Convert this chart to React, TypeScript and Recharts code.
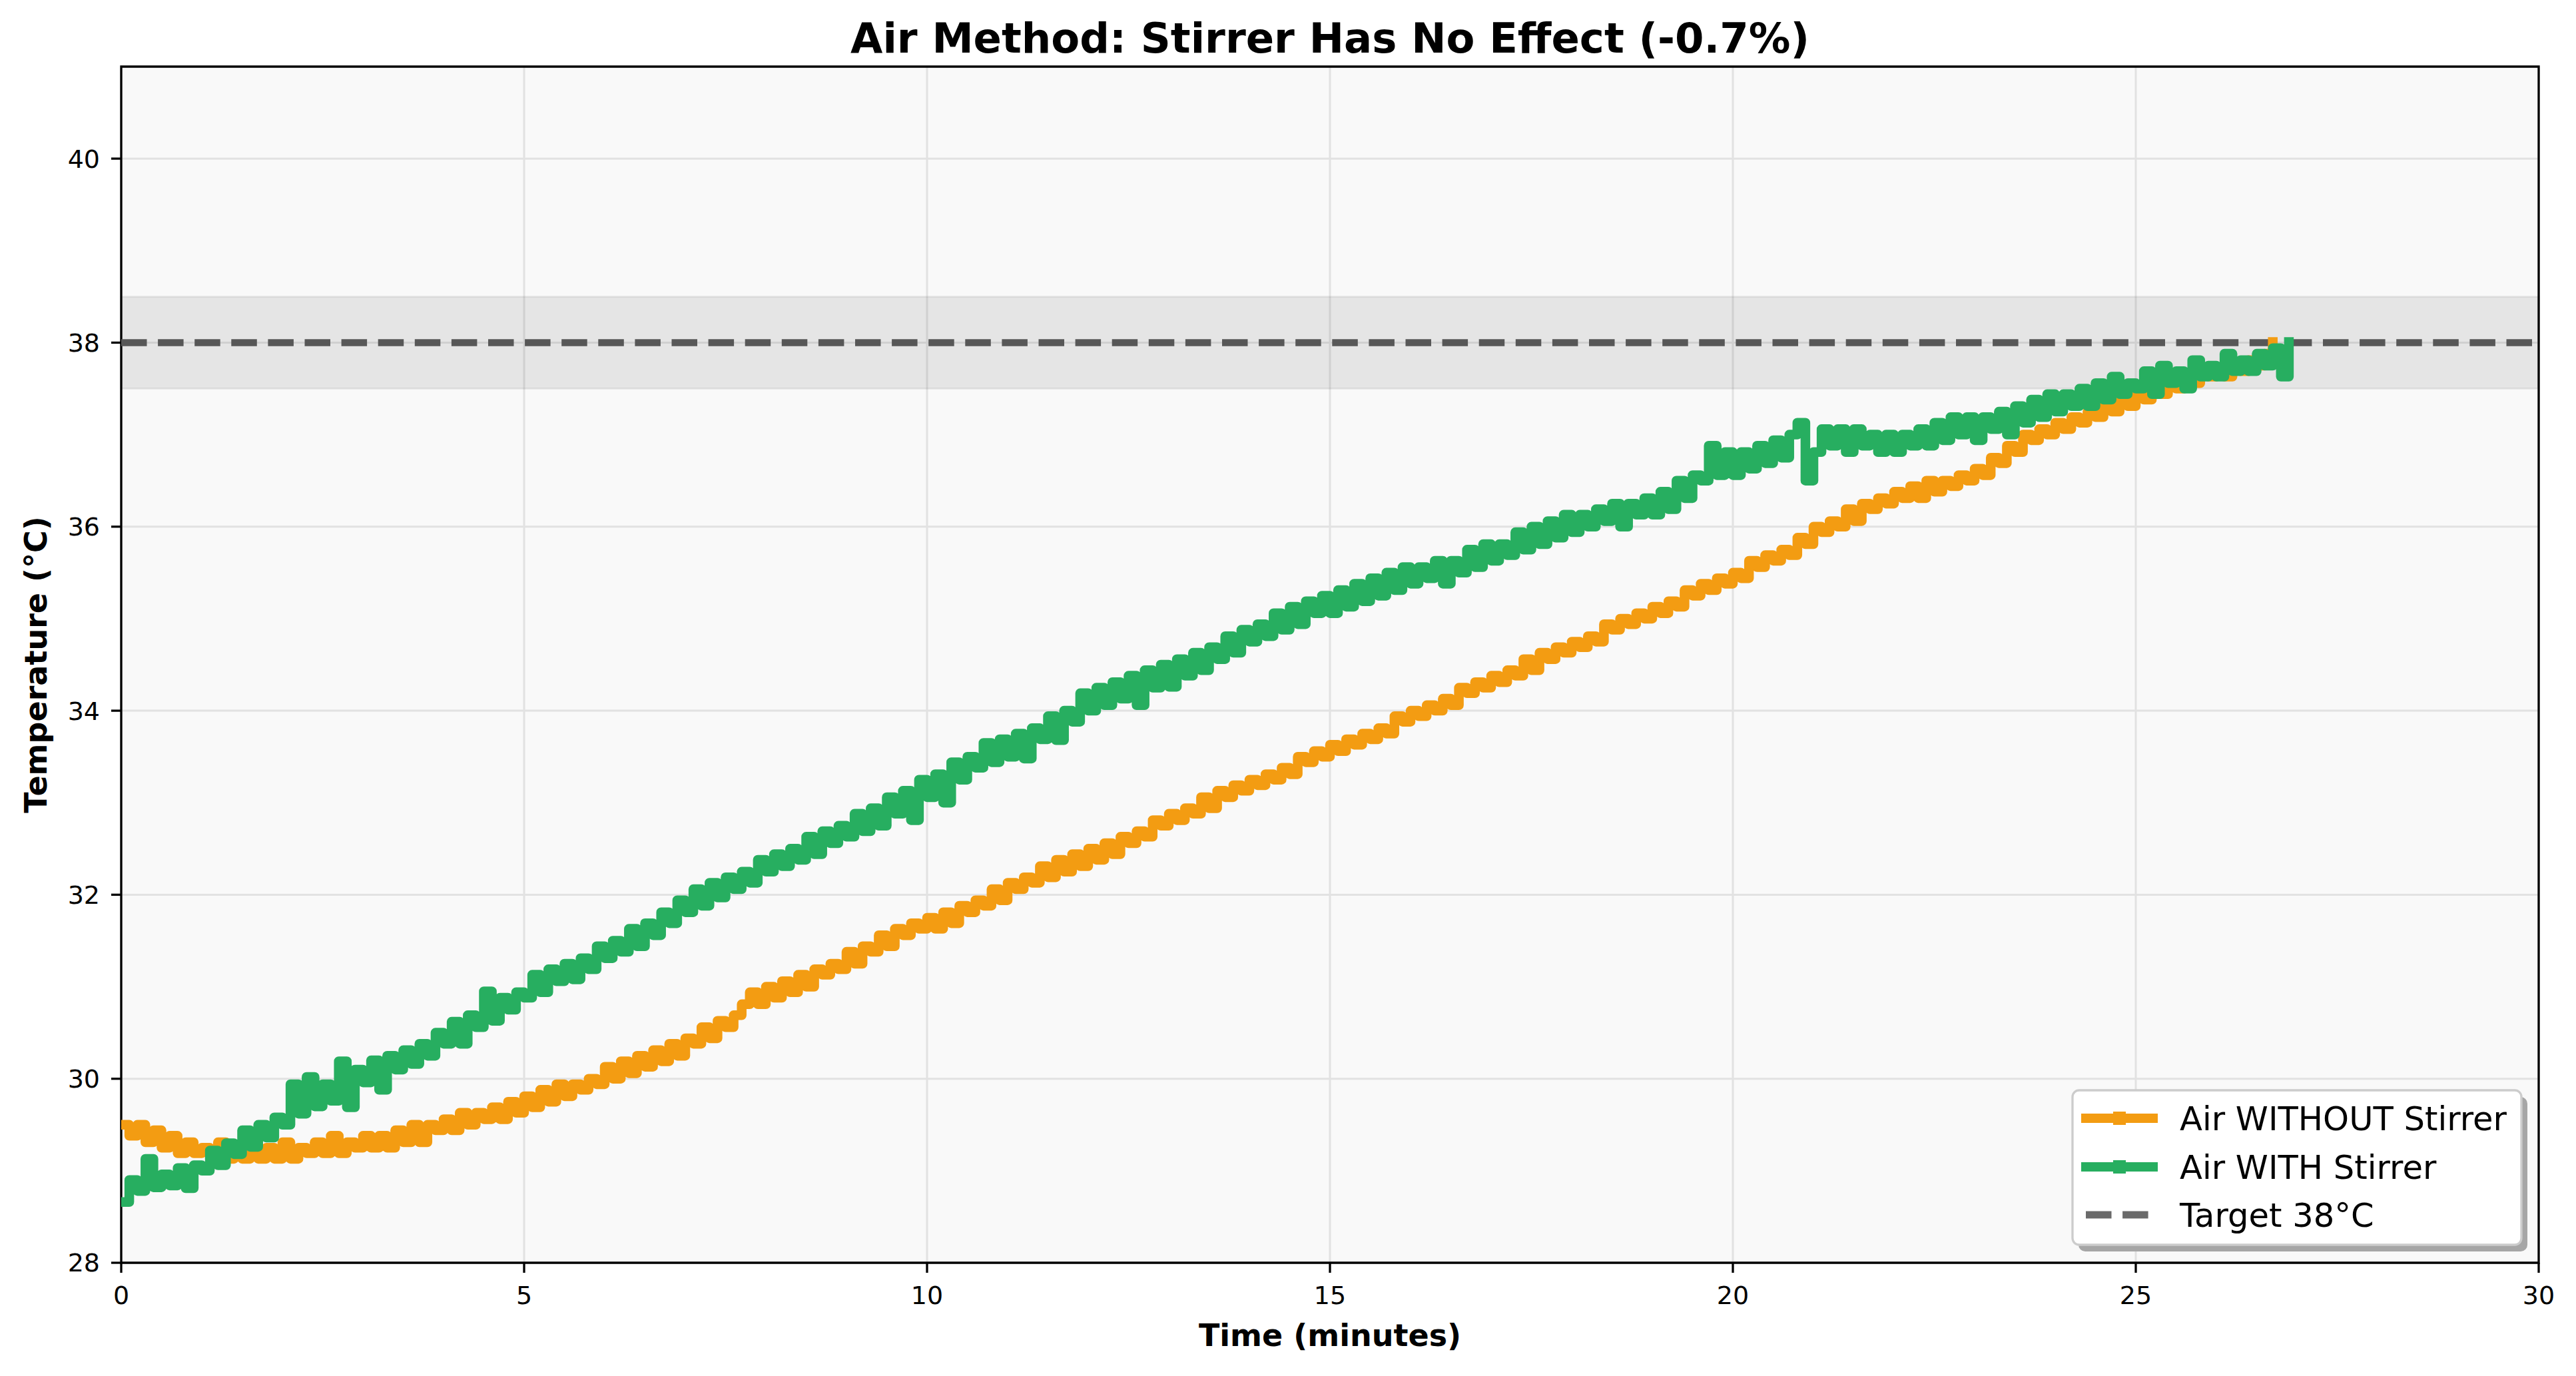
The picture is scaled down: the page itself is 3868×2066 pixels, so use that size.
import React from "react";
import {
  LineChart,
  Line,
  XAxis,
  YAxis,
  CartesianGrid,
  ReferenceArea,
  ReferenceLine,
} from "recharts";

// Sampling interval of the logger, in minutes
const SAMPLE_STEP_MIN = 0.1;

// Air temperature (°C) without the stirrer, one row per minute
const AIR_WITHOUT_STIRRER = [
  29.5, 29.38, 29.5, 29.31, 29.44, 29.25, 29.38, 29.19, 29.31, 29.19,
  29.25, 29.13, 29.31, 29.13, 29.25, 29.13, 29.31, 29.13, 29.25, 29.13,
  29.31, 29.13, 29.25, 29.19, 29.31, 29.19, 29.38, 29.19, 29.31, 29.25,
  29.38, 29.25, 29.38, 29.25, 29.44, 29.31, 29.5, 29.31, 29.5, 29.44,
  29.56, 29.44, 29.63, 29.5, 29.63, 29.56, 29.69, 29.56, 29.75, 29.63,
  29.81, 29.69, 29.88, 29.75, 29.94, 29.81, 29.94, 29.88, 30.0, 29.94,
  30.13, 30.0, 30.19, 30.06, 30.25, 30.13, 30.31, 30.19, 30.38, 30.25,
  30.44, 30.38, 30.56, 30.44, 30.63, 30.56, 30.69, 30.81, 30.94, 30.81,
  31.0, 30.88, 31.06, 30.94, 31.13, 31.0, 31.19, 31.13, 31.25, 31.19,
  31.38, 31.25, 31.44, 31.38, 31.56, 31.44, 31.63, 31.56, 31.69, 31.63,
  31.75, 31.63, 31.81, 31.69, 31.88, 31.81, 31.94, 31.88, 32.06, 31.94,
  32.13, 32.06, 32.19, 32.13, 32.31, 32.19, 32.38, 32.25, 32.44, 32.31,
  32.5, 32.38, 32.56, 32.44, 32.63, 32.56, 32.69, 32.63, 32.81, 32.75,
  32.88, 32.81, 32.94, 32.88, 33.06, 32.94, 33.13, 33.06, 33.19, 33.13,
  33.25, 33.19, 33.31, 33.25, 33.38, 33.31, 33.5, 33.44, 33.56, 33.5,
  33.63, 33.56, 33.69, 33.63, 33.75, 33.69, 33.81, 33.75, 33.94, 33.88,
  34.0, 33.94, 34.06, 34.0, 34.13, 34.06, 34.25, 34.19, 34.31, 34.25,
  34.38, 34.31, 34.44, 34.38, 34.56, 34.44, 34.63, 34.56, 34.69, 34.63,
  34.75, 34.69, 34.81, 34.75, 34.94, 34.88, 35.0, 34.94, 35.06, 35.0,
  35.13, 35.06, 35.19, 35.13, 35.31, 35.25, 35.38, 35.31, 35.44, 35.38,
  35.5, 35.44, 35.63, 35.56, 35.69, 35.63, 35.75, 35.69, 35.88, 35.81,
  36.0, 35.94, 36.06, 36.0, 36.19, 36.06, 36.25, 36.19, 36.31, 36.25,
  36.38, 36.31, 36.44, 36.31, 36.5, 36.38, 36.5, 36.44, 36.56, 36.5,
  36.63, 36.56, 36.75, 36.69, 36.88, 36.81, 37.0, 36.94, 37.06, 37.0,
  37.13, 37.06, 37.19, 37.13, 37.25, 37.19, 37.31, 37.25, 37.38, 37.31,
  37.44, 37.38, 37.5, 37.44, 37.56, 37.5, 37.63, 37.56, 37.69, 37.63,
  37.69, 37.63, 37.75, 37.69, 37.81, 37.75, 37.88, 38.06,
];

// Air temperature (°C) with the stirrer running, one row per minute
const AIR_WITH_STIRRER = [
  28.66, 28.9, 28.78, 29.13, 28.82, 28.96, 28.84, 29.03, 28.81, 29.06,
  29.0, 29.22, 29.06, 29.3, 29.18, 29.44, 29.26, 29.5, 29.36, 29.58,
  29.5, 29.94, 29.62, 30.02, 29.7, 29.94, 29.76, 30.19, 29.69, 30.1,
  29.96, 30.2, 29.88, 30.25, 30.1, 30.31, 30.16, 30.38, 30.25, 30.5,
  30.38, 30.62, 30.38, 30.69, 30.56, 30.95, 30.63, 30.88, 30.75, 30.94,
  30.88, 31.13, 30.94, 31.19, 31.06, 31.25, 31.08, 31.31, 31.19, 31.44,
  31.31, 31.5, 31.38, 31.63, 31.44, 31.69, 31.56, 31.81, 31.69, 31.94,
  31.81, 32.06, 31.88, 32.13, 31.97, 32.19, 32.06, 32.25, 32.13, 32.38,
  32.25, 32.44, 32.31, 32.5, 32.38, 32.63, 32.44, 32.69, 32.56, 32.75,
  32.63, 32.88, 32.69, 32.94, 32.75, 33.06, 32.88, 33.13, 32.81, 33.25,
  33.06, 33.31, 33.0, 33.44, 33.25, 33.5, 33.38, 33.65, 33.44, 33.69,
  33.5, 33.75, 33.48, 33.81, 33.69, 33.94, 33.68, 34.0, 33.88, 34.19,
  34.0, 34.25, 34.06, 34.31, 34.13, 34.38, 34.06, 34.44, 34.25, 34.5,
  34.26, 34.56, 34.38, 34.63, 34.44, 34.69, 34.56, 34.81, 34.63, 34.88,
  34.75, 34.94, 34.81, 35.06, 34.88, 35.13, 34.94, 35.19, 35.06, 35.25,
  35.06, 35.31, 35.13, 35.38, 35.19, 35.44, 35.25, 35.5, 35.31, 35.56,
  35.38, 35.56, 35.44, 35.63, 35.38, 35.63, 35.5, 35.75, 35.56, 35.81,
  35.63, 35.81, 35.69, 35.94, 35.75, 36.0, 35.81, 36.06, 35.88, 36.13,
  35.94, 36.13, 36.0, 36.19, 36.06, 36.25, 36.0, 36.25, 36.13, 36.31,
  36.13, 36.38, 36.19, 36.5, 36.31, 36.56, 36.5, 36.88, 36.56, 36.81,
  36.56, 36.81, 36.63, 36.88, 36.69, 36.94, 36.75, 37.0, 37.13, 36.5,
  36.81, 37.06, 36.88, 37.06, 36.81, 37.06, 36.88, 37.0, 36.81, 37.0,
  36.81, 37.0, 36.88, 37.06, 36.88, 37.13, 36.94, 37.19, 37.0, 37.19,
  36.94, 37.19, 37.06, 37.25, 37.0, 37.31, 37.13, 37.38, 37.19, 37.44,
  37.25, 37.44, 37.31, 37.5, 37.31, 37.56, 37.38, 37.63, 37.44, 37.56,
  37.5, 37.69, 37.44, 37.75, 37.56, 37.69, 37.5, 37.81, 37.63, 37.75,
  37.63, 37.88, 37.69, 37.81, 37.69, 37.88, 37.75, 37.94, 37.63, 38.06,
];

const X_TICKS = [0, 5, 10, 15, 20, 25, 30];
const Y_TICKS = [28, 30, 32, 34, 36, 38, 40];
const TARGET_TEMP = 38;
const TARGET_BAND = [37.5, 38.5];

const TITLE = "Air Method: Stirrer Has No Effect (-0.7%)";
const X_LABEL = "Time (minutes)";
const Y_LABEL = "Temperature (°C)";
const LEGEND_ITEMS = ["Air WITHOUT Stirrer", "Air WITH Stirrer", "Target 38°C"];

const COLOR_WITHOUT = "#F39C12";
const COLOR_WITH = "#27AE60";
const FONT = "'DejaVu Sans', sans-serif";

const W = 3868;
const H = 2066;
const PLOT = { left: 182, top: 100, right: 3812, bottom: 1896 };
const Y_AXIS_W = 150;
const X_AXIS_H = 120;

const n = Math.max(AIR_WITHOUT_STIRRER.length, AIR_WITH_STIRRER.length);
const rows = Array.from({ length: n }, (_, i) => ({
  t: Math.round(i * SAMPLE_STEP_MIN * 100) / 100,
  without: AIR_WITHOUT_STIRRER[i],
  with: AIR_WITH_STIRRER[i],
}));

function Overlay() {
  const lx = 3112;
  const ly = 1637;
  const lw = 674;
  const lh = 232;
  const rowY = [1679, 1752, 1824];
  const midY = (PLOT.top + PLOT.bottom) / 2;
  return (
    <svg
      width={W}
      height={H}
      style={{ position: "absolute", left: 0, top: 0, pointerEvents: "none" }}
    >
      <text
        x={(PLOT.left + PLOT.right) / 2}
        y={79}
        textAnchor="middle"
        fontFamily={FONT}
        fontWeight="bold"
        fontSize={62.5}
        fill="#000"
      >
        {TITLE}
      </text>
      <text
        x={(PLOT.left + PLOT.right) / 2}
        y={2021}
        textAnchor="middle"
        fontFamily={FONT}
        fontWeight="bold"
        fontSize={46}
        fill="#000"
      >
        {X_LABEL}
      </text>
      <text
        x={70}
        y={midY}
        textAnchor="middle"
        fontFamily={FONT}
        fontWeight="bold"
        fontSize={46}
        fill="#000"
        transform={`rotate(-90 70 ${midY})`}
      >
        {Y_LABEL}
      </text>

      {/* legend */}
      <rect x={lx + 9} y={ly + 10} width={lw} height={lh} rx={10} fill="#a6a6a6" />
      <rect
        x={lx}
        y={ly}
        width={lw}
        height={lh}
        rx={10}
        fill="#ffffff"
        stroke="#cccccc"
        strokeWidth={3.3}
      />
      <line x1={3125} x2={3240} y1={rowY[0]} y2={rowY[0]} stroke={COLOR_WITHOUT} strokeWidth={14} />
      <rect x={3173} y={rowY[0] - 10} width={19} height={20} fill={COLOR_WITHOUT} />
      <line x1={3125} x2={3240} y1={rowY[1]} y2={rowY[1]} stroke={COLOR_WITH} strokeWidth={14} />
      <rect x={3173} y={rowY[1] - 10} width={19} height={20} fill={COLOR_WITH} />
      <line
        x1={3132}
        x2={3240}
        y1={rowY[2]}
        y2={rowY[2]}
        stroke="#6a6a6a"
        strokeWidth={11}
        strokeDasharray="38.5 16.6"
      />
      {LEGEND_ITEMS.map((label, i) => (
        <text
          key={label}
          x={3273}
          y={rowY[i] + 18}
          fontFamily={FONT}
          fontSize={49.6}
          fill="#000"
        >
          {label}
        </text>
      ))}
    </svg>
  );
}

export default function App() {
  return (
    <div
      style={{
        position: "absolute",
        left: 0,
        top: 0,
        width: W,
        height: H,
        background: "#ffffff",
      }}
    >
      <LineChart
        width={W}
        height={H}
        data={rows}
        margin={{
          top: PLOT.top,
          left: PLOT.left - Y_AXIS_W,
          right: W - PLOT.right,
          bottom: H - PLOT.bottom - X_AXIS_H,
        }}
      >
        <CartesianGrid
          fill="#f9f9f9"
          stroke="#e2e2e2"
          strokeWidth={3}
          horizontalValues={Y_TICKS}
          verticalValues={X_TICKS}
        />
        <XAxis
          dataKey="t"
          type="number"
          domain={[0, 30]}
          ticks={X_TICKS}
          height={X_AXIS_H}
          axisLine={false}
          tickSize={15}
          tickMargin={20}
          tickLine={{ stroke: "#000", strokeWidth: 3.3 }}
          tick={{ fill: "#000", fontSize: 38, fontFamily: FONT }}
          interval={0}
          allowDataOverflow
        />
        <YAxis
          type="number"
          domain={[28, 41]}
          ticks={Y_TICKS}
          width={Y_AXIS_W}
          axisLine={false}
          tickSize={15}
          tickMargin={17}
          tickLine={{ stroke: "#000", strokeWidth: 3.3 }}
          tick={{ fill: "#000", fontSize: 38, fontFamily: FONT }}
          interval={0}
          allowDataOverflow
        />
        <ReferenceArea
          y1={TARGET_BAND[0]}
          y2={TARGET_BAND[1]}
          fill="#000"
          fillOpacity={0.08}
          stroke="#000"
          strokeOpacity={0.06}
          strokeWidth={3}
        />
        <ReferenceLine
          y={TARGET_TEMP}
          stroke="#575757"
          strokeWidth={10.4}
          strokeDasharray="38.5 16.6"
        />
        <Line
          dataKey="without"
          stroke={COLOR_WITHOUT}
          strokeWidth={14.5}
          strokeLinejoin="round"
          dot={false}
          activeDot={false}
          isAnimationActive={false}
          connectNulls={false}
          type="stepAfter"
        />
        <Line
          dataKey="with"
          stroke={COLOR_WITH}
          strokeWidth={14.5}
          strokeLinejoin="round"
          dot={false}
          activeDot={false}
          isAnimationActive={false}
          connectNulls={false}
          type="stepAfter"
        />
        <ReferenceArea
          x1={0}
          x2={30}
          y1={28}
          y2={41}
          fill="none"
          stroke="#000"
          strokeWidth={3.3}
          ifOverflow="visible"
        />
      </LineChart>
      <Overlay />
    </div>
  );
}
